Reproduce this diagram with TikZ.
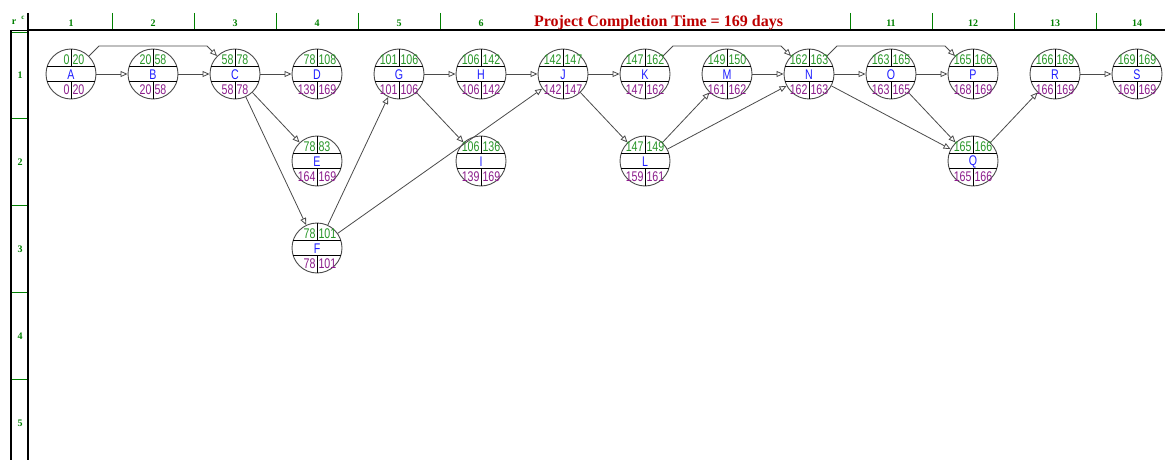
\documentclass[tikz,border=0pt]{standalone}
\usepackage{fontspec}
\setmainfont{Liberation Serif}
\newfontfamily\nodefont[FakeStretch=0.76]{Liberation Sans}
\usetikzlibrary{arrows.meta}
\definecolor{esgreen}{RGB}{40,150,40}
\definecolor{lspurple}{RGB}{140,30,140}
\definecolor{lblblue}{RGB}{30,30,255}
\definecolor{hdrgreen}{RGB}{0,128,0}
\definecolor{titlered}{RGB}{190,0,0}
\definecolor{linegray}{RGB}{75,75,75}
\tikzset{
  actc/.style={circle, draw=linegray, line width=0.9pt, minimum size=50pt, inner sep=0pt},
  inner/.style={draw=black, line width=0.7pt},
  numtxt/.style={inner sep=0pt, font=\nodefont\fontsize{14}{15}\selectfont},
  estxt/.style={numtxt, text=esgreen},
  lstxt/.style={numtxt, text=lspurple},
  lbltxt/.style={inner sep=0pt, font=\nodefont\fontsize{14}{15}\selectfont, text=lblblue},
  arr/.style={draw=linegray, line width=0.8pt, -{Triangle[open, length=7pt, width=6pt]}},
  hdr/.style={inner sep=0pt, font=\bfseries\fontsize{10}{11}\selectfont, text=hdrgreen},
  frame/.style={draw=black, line width=2.2pt},
  tick/.style={draw=hdrgreen, line width=0.9pt},
}
\newcommand{\act}[8]{%
  \node[actc] (#1) at (#2,#3) {};
  \draw[inner] (#2-23.85,#3-7.5) -- (#2+23.85,#3-7.5);
  \draw[inner] (#2-23.85,#3+7.5) -- (#2+23.85,#3+7.5);
  \draw[inner] (#2,#3-25) -- (#2,#3-7.5);
  \draw[inner] (#2,#3+7.5) -- (#2,#3+25);
  \node[lbltxt] (#1lbl) at (#2,#3+0.5) {#4};
  \node[estxt, anchor=east] (#1es) at (#2-1.3,#3-14.5) {#5};
  \node[estxt, anchor=west] (#1ef) at (#2+1.3,#3-14.5) {#6};
  \node[lstxt, anchor=east] (#1ls) at (#2-1.3,#3+16) {#7};
  \node[lstxt, anchor=west] (#1lf) at (#2+1.3,#3+16) {#8};
}
\begin{document}
\begin{tikzpicture}[x=1pt,y=-1pt]
\useasboundingbox (0,0) rectangle (1165,460);
\fill[white] (0,0) rectangle (1165,460);
% frame
\draw[frame] (11,30) -- (11,460);
\draw[frame] (28,13) -- (28,460);
\draw[frame] (27,30) -- (1165,30);
\draw[draw=black, line width=1pt] (11,30.5) -- (28,30.5);
\draw[tick] (12,32) -- (27,32);
% column ticks
\foreach \t in {112,194,276,358,440,850,932,1014,1096} {\draw[tick] (\t,13) -- (\t,29);}
% column labels
\foreach \c/\xx in {1/71,2/153,3/235,4/317,5/399,6/481,11/891,12/973,13/1055,14/1137}
  {\node[hdr] (col\c) at (\xx,23) {\c};}
% row separators and labels
\foreach \yy in {118,205,292,379} {\draw[tick] (12,\yy) -- (27,\yy);}
\foreach \r/\yy in {1/75,2/162,3/249,4/336,5/423} {\node[hdr] (row\r) at (20,\yy) {\r};}
\node[hdr] (rc) at (14,22.5) {r};
\node[hdr, font=\bfseries\fontsize{7}{8}\selectfont] (rcc) at (23,17.5) {c};
% title
\node[inner sep=0pt, anchor=base, font=\bfseries\fontsize{16}{18}\selectfont, text=titlered] (title) at (658.5,26.5) {Project Completion Time = 169 days};
% activities
\act{A}{71}{74}{A}{0}{20}{0}{20}
\act{B}{153}{74}{B}{20}{58}{20}{58}
\act{C}{235}{74}{C}{58}{78}{58}{78}
\act{D}{317}{74}{D}{78}{108}{139}{169}
\act{E}{317}{161}{E}{78}{83}{164}{169}
\act{F}{317}{248}{F}{78}{101}{78}{101}
\act{G}{399}{74}{G}{101}{106}{101}{106}
\act{H}{481}{74}{H}{106}{142}{106}{142}
\act{I}{481}{161}{I}{106}{136}{139}{169}
\act{J}{563}{74}{J}{142}{147}{142}{147}
\act{K}{645}{74}{K}{147}{162}{147}{162}
\act{L}{645}{161}{L}{147}{149}{159}{161}
\act{M}{727}{74}{M}{149}{150}{161}{162}
\act{N}{809}{74}{N}{162}{163}{162}{163}
\act{O}{891}{74}{O}{163}{165}{163}{165}
\act{P}{973}{74}{P}{165}{166}{168}{169}
\act{Q}{973}{161}{Q}{165}{166}{165}{166}
\act{R}{1055}{74}{R}{166}{169}{166}{169}
\act{S}{1137}{74}{S}{169}{169}{169}{169}
% connectors
\draw[arr] (A) -- (B);
\draw[arr] (A.45) -- ([shift={(10,-10)}]A.45) -- ([shift={(-10,-10)}]C.135) -- (C.135);
\draw[arr] (B) -- (C);
\draw[arr] (C) -- (D);
\draw[arr] (C) -- (E);
\draw[arr] (C) -- (F);
\draw[arr] (F) -- (G);
\draw[arr] (F) -- (J);
\draw[arr] (G) -- (H);
\draw[arr] (G) -- (I);
\draw[arr] (H) -- (J);
\draw[arr] (J) -- (K);
\draw[arr] (J) -- (L);
\draw[arr] (K.45) -- ([shift={(10,-10)}]K.45) -- ([shift={(-10,-10)}]N.135) -- (N.135);
\draw[arr] (L) -- (M);
\draw[arr] (L) -- (N);
\draw[arr] (M) -- (N);
\draw[arr] (N) -- (O);
\draw[arr] (N.45) -- ([shift={(10,-10)}]N.45) -- ([shift={(-10,-10)}]P.135) -- (P.135);
\draw[arr] (N) -- (Q);
\draw[arr] (O) -- (P);
\draw[arr] (O) -- (Q);
\draw[arr] (Q) -- (R);
\draw[arr] (R) -- (S);
\end{tikzpicture}
\end{document}
